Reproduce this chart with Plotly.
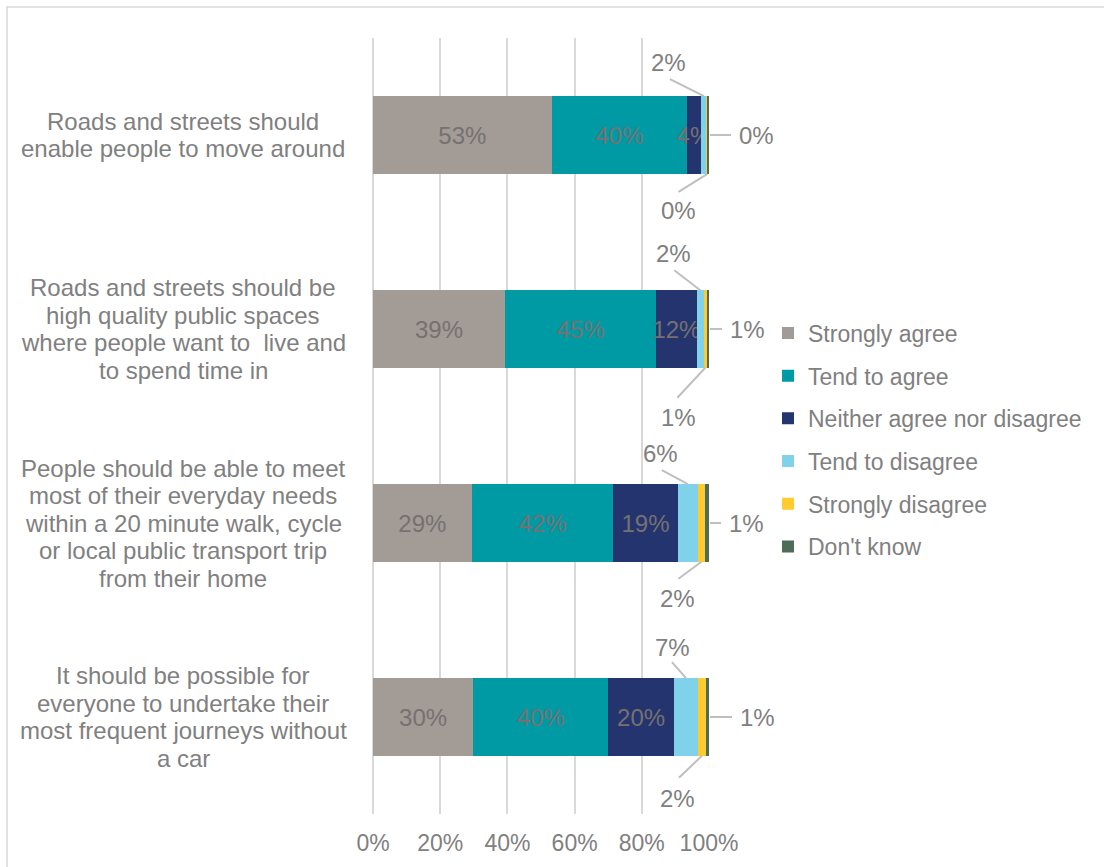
import plotly.graph_objects as go

categories = [
    "Roads and streets should<br>enable people to move around",
    "Roads and streets should be<br>high quality public spaces<br>where people want to  live and<br>to spend time in",
    "People should be able to meet<br>most of their everyday needs<br>within a 20 minute walk, cycle<br>or local public transport trip<br>from their home",
    "It should be possible for<br>everyone to undertake their<br>most frequent journeys without<br>a car",
]
series_names = ["Strongly agree", "Tend to agree", "Neither agree nor disagree",
                "Tend to disagree", "Strongly disagree", "Don't know"]
strongly_agree = [53.2, 39.3, 29.4, 29.8]
tend_to_agree = [40.2, 44.9, 42.1, 40.2]
neither = [4.2, 12.2, 19.2, 19.6]
tend_to_disagree = [1.8, 2.0, 6.0, 7.1]
strongly_disagree = [0.3, 1.0, 2.1, 2.4]
dont_know = [0.3, 0.6, 1.2, 0.9]
x_ticks = [0, 20, 40, 60, 80, 100]
x_tick_labels = ["0%", "20%", "40%", "60%", "80%", "100%"]
x_range = [0, 100]

series = [strongly_agree, tend_to_agree, neither, tend_to_disagree, strongly_disagree, dont_know]
colors = ["#A39B96", "#009AA4", "#24346E", "#80D2EA", "#FFCB30", "#4E6D59"]

FONT = "Liberation Sans, Arial, sans-serif"
TXT = "#808080"
FS = 24

# layout geometry (pixels)
W, H = 1104, 867
L, T = 373, 38
plot_w, plot_h = 336, 776
R = W - L - plot_w
B = H - T - plot_h

fig = go.Figure()
idx = list(range(len(categories)))
for k, (name, vals, col) in enumerate(zip(series_names, series, colors)):
    inside = k < 3
    fig.add_trace(go.Bar(
        y=idx, x=vals, name=name, orientation="h",
        marker=dict(color=col, line=dict(width=0)),
        text=[f"{v:.0f}%" for v in vals] if inside else None,
        textposition="inside" if inside else "none",
        insidetextanchor="middle", constraintext="none", textangle=0,
        insidetextfont=dict(family=FONT, size=FS, color="#767171"),
        legendgroup=f"g{k}", hoverinfo="skip",
    ))

# callout offsets (pixels, y downwards): line end and text centre relative to anchor point
top_line = [(-34, -17), (-26, -20), (-26, -14), (-14, -16)]
top_text = [(-35, -34), (-27, -37), (-27, -31), (-13, -31)]
bot_line = [(-29, 18), (-28, 30), (-23, 17), (-23, 22)]
bot_text = [(-29, 37), (-27, 50), (-24, 37), (-24, 43)]
right_line = [22, 13, 12, 23]
right_text = [47, 38, 37, 48]

half = 0.2
shapes = []
annotations = []
LINE_COL = "#BFBFBF"
for i in idx:
    cum = [0]
    for s in series:
        cum.append(cum[-1] + s[i])
    callouts = [
        (cum[3] + tend_to_disagree[i] / 2, i - half, top_line[i], top_text[i], tend_to_disagree[i]),
        (cum[4] + strongly_disagree[i] / 2, i + half, bot_line[i], bot_text[i], strongly_disagree[i]),
    ]
    for (x0, y0, (ldx, ldy), (tdx, tdy), v) in callouts:
        shapes.append(dict(type="line", xref="x", yref="y", xsizemode="pixel", ysizemode="pixel",
                           xanchor=x0, yanchor=y0, x0=0, y0=0, x1=ldx, y1=-ldy,
                           line=dict(color=LINE_COL, width=2)))
        annotations.append(dict(x=x0, y=y0, xref="x", yref="y", xshift=tdx, yshift=-tdy,
                                text=f"{v:.0f}%", showarrow=False, xanchor="center", yanchor="middle",
                                font=dict(family=FONT, size=FS, color=TXT)))
    # don't know -> right (paper ref so the leader line is not clipped by the plot area)
    xe = cum[6]
    xe_paper = (xe - x_range[0]) / (x_range[1] - x_range[0])
    shapes.append(dict(type="line", xref="paper", yref="y", xsizemode="pixel",
                       xanchor=xe_paper, x0=1, x1=right_line[i], y0=i, y1=i,
                       line=dict(color=LINE_COL, width=2)))
    annotations.append(dict(x=xe, y=i, xref="x", yref="y", xshift=right_text[i],
                            text=f"{dont_know[i]:.0f}%", showarrow=False, xanchor="center",
                            yanchor="middle", font=dict(family=FONT, size=FS, color=TXT)))
    # category label, one annotation per line for tight line spacing
    lines = categories[i].split("<br>")
    n = len(lines)
    for j, ln in enumerate(lines):
        annotations.append(dict(x=0, y=i, xref="paper", yref="y", xshift=-190,
                                yshift=-(j - (n - 1) / 2) * 27.5, text=ln,
                                showarrow=False, xanchor="center", yanchor="middle",
                                font=dict(family=FONT, size=FS, color=TXT)))

# outer chart border
shapes.append(dict(type="rect", xref="paper", yref="paper",
                   x0=(7 - L) / plot_w, x1=(W + 5 - L) / plot_w,
                   y0=(H - B - (H + 5)) / plot_h, y1=(H - B - 7) / plot_h,
                   line=dict(color="#D9D9D9", width=1.5), layer="below"))

fig.update_layout(
    width=W, height=H, barmode="stack", bargap=0.6,
    margin=dict(l=L, r=R, t=T, b=B, pad=0),
    paper_bgcolor="white", plot_bgcolor="white",
    font=dict(family=FONT, size=FS, color=TXT),
    shapes=shapes, annotations=annotations,
    xaxis=dict(range=x_range, tickvals=x_ticks, ticktext=x_tick_labels,
               showgrid=True, gridcolor="#D9D9D9", gridwidth=2,
               zeroline=True, zerolinecolor="#D9D9D9", zerolinewidth=2,
               showline=False, ticks="", ticklen=0, ticklabelstandoff=13,
               tickfont=dict(family=FONT, size=23, color=TXT)),
    yaxis=dict(autorange="reversed", showticklabels=False, showgrid=False,
               zeroline=False, showline=False, ticks=""),
    legend=dict(x=(768 - L) / plot_w, xanchor="left", y=(H - B - 440) / plot_h, yanchor="middle",
                traceorder="grouped", tracegroupgap=9.8,
                font=dict(family=FONT, size=23, color=TXT), bgcolor="rgba(0,0,0,0)"),
    showlegend=True,
)

fig.write_html("out.html", config={"displayModeBar": False},
               post_script="document.body.style.margin='0';")
